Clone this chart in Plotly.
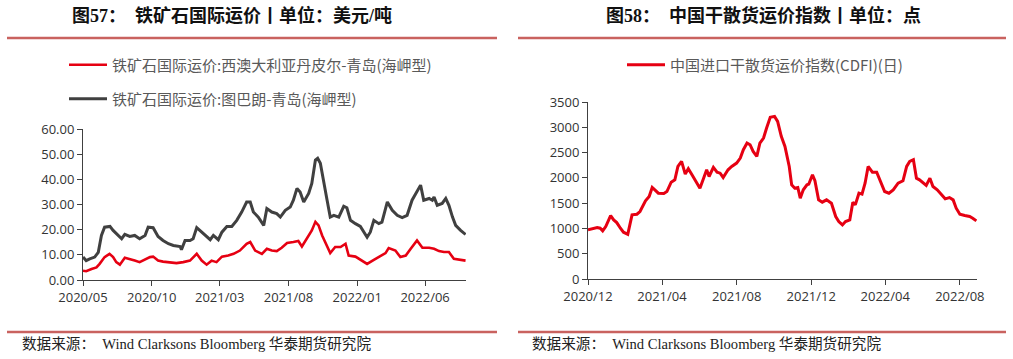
import pandas as pd
import plotly.graph_objects as go

# ---------------- Data ----------------
# Chart 57: iron ore freight (USD/ton); x = days since 2020-05-01
start57 = "2020-05-01"
tub_days = [0, 7, 15, 26, 34, 41, 48, 60, 67, 78, 86, 93, 104, 115, 126, 138, 145, 156, 167, 178,
            190, 201, 216, 219, 227, 238, 245, 253, 264, 275, 283, 290, 301, 309, 320, 331, 342, 353,
            364, 372, 379, 390, 402, 409, 420, 431, 439, 450, 461, 468, 476, 483, 491, 502, 509, 517,
            522, 528, 535, 543, 550, 558, 569, 580, 587, 595, 606, 617, 632, 639, 647, 658, 665, 677,
            688, 699, 710, 721, 732, 744, 751, 758, 770, 777, 781, 788, 799, 807, 814, 822, 829, 840, 851]
tub_vals = [9.1, 7.7, 8.4, 9.1, 11.0, 17.7, 21.0, 21.3, 19.7, 17.7, 16.4, 18.1, 17.3, 17.7, 16.4, 17.7,
            21.0, 20.8, 17.3, 15.7, 14.4, 13.7, 13.3, 12.0, 15.7, 15.7, 16.4, 20.8, 19.0, 17.0, 16.0, 17.7,
            16.0, 19.0, 21.3, 21.3, 23.7, 27.0, 31.0, 31.0, 27.0, 25.0, 21.7, 28.4, 27.0, 26.4, 25.0, 27.7,
            29.0, 31.7, 36.4, 35.0, 31.0, 34.4, 38.4, 47.7, 48.4, 46.4, 39.0, 31.7, 25.0, 25.7, 25.0, 29.3,
            28.7, 23.7, 22.4, 21.3, 17.0, 19.0, 23.7, 22.4, 23.0, 31.0, 27.7, 25.7, 24.8, 25.7, 31.7, 35.7,
            37.7, 31.7, 32.4, 31.7, 33.0, 29.7, 30.4, 32.4, 29.7, 25.0, 21.7, 19.7, 18.1]
dam_days = [0, 7, 19, 30, 37, 48, 59, 67, 74, 82, 93, 104, 115, 126, 138, 149, 156, 167, 178, 193,
            208, 223, 238, 253, 264, 275, 286, 297, 309, 323, 335, 349, 364, 372, 383, 398, 409, 420,
            431, 442, 454, 468, 479, 487, 498, 509, 517, 524, 532, 543, 550, 561, 573, 584, 591, 606,
            621, 632, 647, 662, 673, 680, 695, 706, 718, 729, 743, 755, 770, 781, 792, 803, 814, 825, 840, 851]
dam_vals = [3.7, 3.5, 4.4, 5.0, 6.4, 9.1, 10.4, 9.1, 7.1, 6.1, 8.8, 8.4, 7.7, 7.1, 8.0, 9.1, 9.3, 7.7,
            7.3, 7.1, 6.7, 7.1, 7.7, 10.4, 7.7, 6.1, 7.7, 7.1, 9.3, 9.7, 10.4, 11.7, 14.4, 15.1, 11.7,
            10.4, 12.4, 11.7, 11.5, 12.8, 14.7, 15.1, 15.5, 13.3, 16.4, 19.7, 23.1, 21.7, 17.7, 13.1, 10.7,
            13.1, 13.1, 14.4, 9.7, 9.3, 7.7, 6.4, 8.0, 9.7, 10.7, 12.7, 11.7, 9.1, 9.7, 12.4, 15.7, 12.8,
            12.8, 12.4, 11.5, 11.1, 11.1, 8.4, 8.0, 7.7]
name_dam = "铁矿石国际运价:西澳大利亚丹皮尔-青岛(海岬型)"
name_tub = "铁矿石国际运价:图巴朗-青岛(海岬型)"
ticks57 = ["2020-05-01", "2020-10-01", "2021-03-01", "2021-08-01", "2022-01-01", "2022-06-01"]
ticktext57 = ["2020/05", "2020/10", "2021/03", "2021/08", "2022/01", "2022/06"]

# Chart 58: China dry bulk freight index CDFI; x = days since 2020-12-01
start58 = "2020-12-01"
cdfi_days = [0, 7, 15, 20, 24, 29, 37, 42, 47, 53, 58, 65, 72, 80, 85, 94, 100, 105, 110, 115, 124, 129,
             136, 142, 147, 153, 159, 164, 170, 178, 183, 189, 194, 198, 205, 211, 216, 221, 229, 235,
             243, 249, 254, 260, 265, 270, 276, 281, 287, 292, 298, 305, 310, 316, 322, 329, 333, 338,
             343, 347, 352, 358, 361, 367, 371, 377, 383, 390, 398, 405, 410, 416, 421, 428, 433, 437,
             443, 448, 453, 458, 465, 472, 479, 485, 492, 499, 507, 515, 521, 526, 532, 537, 542, 548,
             553, 559, 564, 571, 578, 584, 591, 597, 602, 608, 616, 624, 629, 635]
cdfi_vals = [971, 990, 1017, 1004, 951, 1037, 1255, 1169, 1116, 1004, 925, 885, 1268, 1281, 1334, 1545,
             1631, 1810, 1743, 1697, 1691, 1730, 1915, 1961, 2226, 2325, 2074, 2179, 2060, 1895, 1796,
             1994, 2160, 2027, 2206, 2113, 2093, 2008, 2160, 2226, 2292, 2391, 2556, 2688, 2655, 2523,
             2424, 2688, 2787, 2985, 3196, 3216, 3117, 2820, 2622, 2226, 1862, 1796, 1810, 1598, 1763,
             1862, 1876, 2060, 1942, 1565, 1519, 1565, 1499, 1235, 1136, 1070, 1136, 1169, 1519, 1466,
             1697, 1677, 1895, 2226, 2113, 2113, 1915, 1730, 1697, 1763, 1895, 1942, 2226, 2325, 2358,
             1994, 1961, 1895, 1849, 1994, 1829, 1763, 1677, 1585, 1611, 1565, 1400, 1281, 1255, 1235,
             1202, 1149]
name_cdfi = "中国进口干散货运价指数(CDFI)(日)"
ticks58 = ["2020-12-01", "2021-04-01", "2021-08-01", "2021-12-01", "2022-04-01", "2022-08-01"]
ticktext58 = ["2020/12", "2021/04", "2021/08", "2021/12", "2022/04", "2022/08"]

title57 = "图57：  铁矿石国际运价丨单位：美元/吨"
title58 = "图58：  中国干散货运价指数丨单位：点"
source = "数据来源：  Wind Clarksons Bloomberg 华泰期货研究院"

# ---------------- Figure ----------------
W, H = 1013, 359
def px(x): return x / W
def py(y): return 1 - y / H

def to_dates(start, days):
    return pd.to_datetime(start) + pd.to_timedelta(days, unit="D")

RED = "#e60012"
DARK = "#404040"
AX = "#404040"
TICKFONT = dict(family="Open Sans, Noto Sans CJK SC", size=13, color="#333333")
LEGFONT = dict(family="Noto Sans CJK SC", size=15, color="#595959")

fig = go.Figure()
fig.add_trace(go.Scatter(x=to_dates(start57, dam_days), y=dam_vals, mode="lines", name=name_dam,
                         line=dict(color=RED, width=2.6), xaxis="x", yaxis="y", legend="legend"))
fig.add_trace(go.Scatter(x=to_dates(start57, tub_days), y=tub_vals, mode="lines", name=name_tub,
                         line=dict(color=DARK, width=3), xaxis="x", yaxis="y", legend="legend2"))
fig.add_trace(go.Scatter(x=to_dates(start58, cdfi_days), y=cdfi_vals, mode="lines", name=name_cdfi,
                         line=dict(color=RED, width=3), xaxis="x2", yaxis="y2", legend="legend3"))

axis_common = dict(showgrid=False, zeroline=False, showline=True, linecolor=AX, linewidth=1,
                   ticks="outside", ticklen=5, tickcolor=AX, tickwidth=1, tickfont=TICKFONT,
                   automargin=False)

leg_common = dict(font=LEGFONT, bgcolor="rgba(0,0,0,0)", xanchor="left", yanchor="middle",
                  itemwidth=38, borderwidth=0)

fig.update_layout(
    width=W, height=H, autosize=False,
    margin=dict(l=0, r=0, t=0, b=0, pad=0, autoexpand=False),
    paper_bgcolor="white", plot_bgcolor="white",
    showlegend=True,
    xaxis=dict(axis_common, type="date", domain=[px(83), px(466)],
               range=["2020-05-01", "2022-08-31"], tickvals=ticks57, ticktext=ticktext57,
               anchor="y"),
    yaxis=dict(axis_common, domain=[py(280), py(129)], range=[0, 60], dtick=10,
               tickformat=".2f", anchor="x"),
    xaxis2=dict(axis_common, type="date", domain=[px(588), px(977)],
                range=["2020-12-01", "2022-08-29"], tickvals=ticks58, ticktext=ticktext58,
                anchor="y2"),
    yaxis2=dict(axis_common, domain=[py(279), py(102)], range=[0, 3500], dtick=500,
                anchor="x2"),
    legend=dict(leg_common, x=px(64), y=py(65)),
    legend2=dict(leg_common, x=px(64), y=py(99)),
    legend3=dict(leg_common, x=px(622), y=py(65)),
)

# Title and source rules
rule_color = "#c9625f"
for x0, x1 in [(7, 497), (518, 1006)]:
    for yy in (38, 332):
        fig.add_shape(type="line", xref="paper", yref="paper", x0=px(x0), x1=px(x1),
                      y0=py(yy), y1=py(yy), line=dict(color=rule_color, width=2.5))

TITLEFONT = dict(family="Liberation Serif, Noto Sans CJK SC", size=18, color="#111111")
fig.add_annotation(text="<b>" + title57 + "</b>", xref="paper", yref="paper", x=px(232), y=py(15),
                   showarrow=False, font=TITLEFONT, xanchor="center", yanchor="middle")
fig.add_annotation(text="<b>" + title58 + "</b>", xref="paper", yref="paper", x=px(763), y=py(15),
                   showarrow=False, font=TITLEFONT, xanchor="center", yanchor="middle")

SRCFONT = dict(family="Liberation Serif, Noto Sans CJK SC", size=14.6, color="#222222")
fig.add_annotation(text=source, xref="paper", yref="paper", x=px(20), y=py(344),
                   showarrow=False, font=SRCFONT, xanchor="left", yanchor="middle")
fig.add_annotation(text=source, xref="paper", yref="paper", x=px(530), y=py(344),
                   showarrow=False, font=SRCFONT, xanchor="left", yanchor="middle")

fig.write_html("out.html", config={"displayModeBar": False},
               post_script="document.body.style.margin='0';document.body.style.overflow='hidden';")
